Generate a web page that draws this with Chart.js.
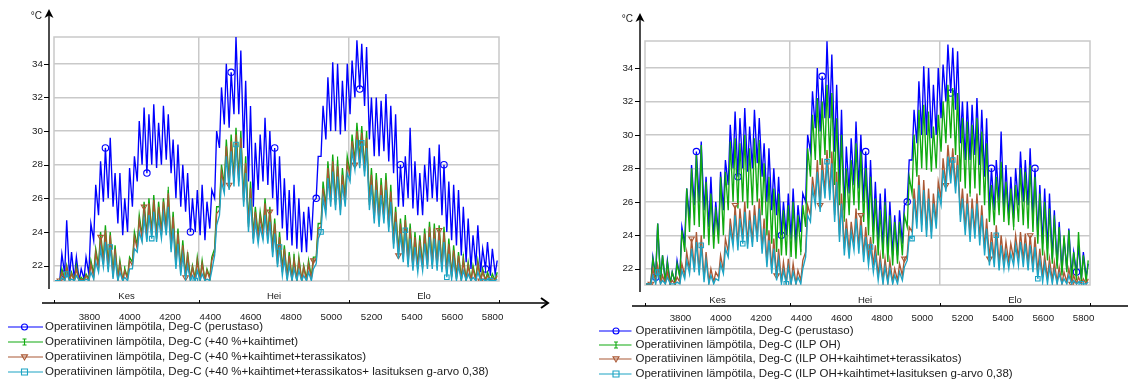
<!DOCTYPE html>
<html><head><meta charset="utf-8">
<script src="https://cdn.jsdelivr.net/npm/chart.js@4.4.1/dist/chart.umd.min.js"></script>
<style>
html,body{margin:0;padding:0;background:#fff;width:1128px;height:383px;overflow:hidden}
#cl{position:absolute;left:0;top:0}
#cr{position:absolute;left:564px;top:0}
</style></head><body>
<canvas id="cl" width="564" height="383"></canvas>
<canvas id="cr" width="564" height="383"></canvas>
<script>
// ---- data (hour of year; one max and one min per day) ----
const FIRST_HOUR = 3624;
const monthBounds = [3624, 4344, 5088, 5832];
const monthCenters = [3984, 4716, 5460];
const monthNames = ['Kes', 'Hei', 'Elo'];
const xTickValues = [3800, 4000, 4200, 4400, 4600, 4800, 5000, 5200, 5400, 5600, 5800];
const yTickValues = [22, 24, 26, 28, 30, 32, 34];

// perustaso (same in both charts)
const baseMax = [
21.1,22.7,24.7,22.8,22.5,21.8,22.5,24.5,26.8,28.2,
29.0,29.6,27.5,27.5,26.0,27.8,28.5,30.6,31.4,31.0,
31.6,30.5,31.5,31.0,29.5,29.2,28.0,27.5,26.0,26.5,
26.8,25.8,26.5,30.0,32.6,34.0,33.5,35.6,34.8,33.0,
31.5,29.3,29.8,30.8,30.0,29.0,28.5,27.2,26.5,26.8,
26.0,25.2,25.5,25.8,28.5,31.5,33.2,34.1,34.0,33.0,
34.0,34.2,35.4,35.2,35.0,32.0,32.0,31.8,32.2,31.5,
31.0,28.0,28.5,30.2,28.2,27.5,28.0,29.0,28.5,29.2,
28.0,27.0,26.8,26.5,25.5,24.8,23.8,24.4,23.0,23.4,
23.0,22.3];
const baseMin = [
21.1,21.1,21.5,21.3,21.2,21.1,21.2,21.5,23.5,25.0,
25.8,26.0,25.5,24.5,23.8,24.0,25.5,27.0,28.0,27.5,
28.0,27.8,28.0,28.3,27.5,26.0,25.5,25.2,24.0,24.0,
23.8,23.5,24.2,26.0,29.0,30.4,30.2,31.0,31.0,29.0,
27.0,25.5,26.5,27.0,26.8,26.0,25.0,24.2,23.5,23.2,
23.0,22.8,22.8,23.5,26.0,28.5,29.5,30.0,30.0,29.8,
30.0,31.0,32.0,32.5,31.5,29.5,28.5,28.5,28.8,28.2,
27.5,25.5,25.5,26.0,25.4,25.0,25.0,25.8,26.0,25.8,
25.0,24.0,23.5,23.2,22.6,22.2,21.8,22.0,21.6,21.8,
21.4,21.5];

// left chart: +40 %+kaihtimet
const leftGreenMax = [
21.1,21.8,22.0,21.6,22.0,21.3,21.5,22.3,23.0,24.0,
24.4,24.0,23.2,22.3,21.8,22.5,24.0,25.0,25.8,26.0,
26.2,25.8,26.0,26.5,25.2,24.2,23.5,22.8,22.0,22.5,
22.3,21.8,22.5,25.5,28.0,29.5,29.8,30.2,30.0,28.5,
27.0,25.5,25.2,26.0,25.5,24.8,24.0,23.2,22.8,22.5,
22.5,22.0,22.3,22.5,24.5,27.0,28.2,28.6,28.3,27.8,
28.5,29.8,30.5,30.3,30.0,27.8,27.5,27.2,27.5,26.8,
25.5,24.8,25.0,24.5,24.0,23.8,24.2,24.6,24.5,24.4,
24.3,23.6,23.2,22.8,22.5,22.2,22.0,22.3,21.8,21.6,
21.5,21.6];
const leftGreenMin = [
21.1,21.1,21.2,21.1,21.1,21.1,21.1,21.2,21.5,22.0,
22.3,22.0,21.5,21.2,21.1,21.3,22.2,23.2,23.8,23.8,
24.0,23.8,24.0,24.2,23.2,22.2,21.8,21.4,21.2,21.2,
21.2,21.1,21.3,23.0,25.5,26.8,27.0,27.2,27.2,26.0,
24.5,23.8,23.8,24.0,23.8,23.0,22.3,21.8,21.3,21.2,
21.1,21.1,21.2,21.3,22.5,24.5,25.5,26.0,25.8,25.5,
26.0,27.5,28.2,28.3,27.8,25.8,25.0,24.8,25.0,24.5,
23.5,22.8,22.6,22.3,22.0,21.9,22.0,22.2,22.1,22.0,
21.9,21.6,21.4,21.3,21.2,21.1,21.1,21.2,21.1,21.1,
21.1,21.1];
// left chart: +40 %+kaihtimet+terassikatos
const leftBrownMax = [
21.1,21.6,21.9,21.5,21.8,21.2,21.4,22.1,22.8,23.7,
24.1,23.8,23.0,22.1,21.7,22.3,23.7,24.7,25.5,25.7,
25.9,25.5,25.8,26.3,24.9,23.9,23.2,22.6,21.9,22.3,
22.1,21.7,22.3,25.1,27.6,29.1,29.4,29.8,29.6,28.1,
26.6,25.2,24.9,25.7,25.2,24.5,23.7,23.0,22.6,22.3,
22.3,21.9,22.1,22.3,24.2,26.6,27.8,28.2,27.9,27.4,
28.1,29.4,30.0,29.9,29.6,27.4,27.1,26.8,27.1,26.4,
25.2,24.5,24.7,24.2,23.7,23.5,23.9,24.3,24.2,24.1,
24.0,23.3,22.9,22.6,22.3,22.0,21.8,22.1,21.6,21.4,
21.3,21.4];
const leftBrownMin = [
21.1,21.1,21.1,21.1,21.1,21.1,21.1,21.1,21.3,21.8,
22.1,21.8,21.3,21.1,21.1,21.2,22.0,23.0,23.6,23.6,
23.8,23.6,23.8,24.0,23.0,22.0,21.6,21.3,21.1,21.1,
21.1,21.1,21.2,22.8,25.3,26.6,26.8,27.0,27.0,25.8,
24.3,23.6,23.6,23.8,23.6,22.8,22.1,21.6,21.2,21.1,
21.1,21.1,21.1,21.2,22.3,24.3,25.3,25.8,25.6,25.3,
25.8,27.3,28.0,28.1,27.6,25.6,24.8,24.6,24.8,24.3,
23.3,22.6,22.4,22.1,21.9,21.8,21.9,22.0,22.0,21.9,
21.8,21.5,21.3,21.2,21.1,21.1,21.1,21.1,21.1,21.1,
21.1,21.1];
// left chart: +40 %+kaihtimet+terassikatos+ lasituksen g-arvo 0,38
const leftCyanMax = [
21.1,21.3,21.5,21.2,21.4,21.1,21.2,21.6,22.2,23.0,
23.4,23.1,22.4,21.6,21.3,21.8,23.0,24.0,24.8,25.0,
25.2,24.8,25.1,25.5,24.2,23.3,22.6,22.0,21.4,21.7,
21.5,21.2,21.7,24.4,27.0,28.5,28.8,29.2,29.0,27.5,
26.0,24.6,24.3,25.0,24.6,23.9,23.1,22.4,22.0,21.8,
21.7,21.4,21.6,21.8,23.6,26.0,27.2,27.6,27.3,26.8,
27.5,28.8,29.5,29.3,29.0,26.8,26.5,26.2,26.5,25.8,
24.6,23.9,24.1,23.6,23.1,22.9,23.3,23.7,23.6,23.5,
23.4,22.7,22.3,22.0,21.7,21.5,21.3,21.6,21.2,21.2,
21.1,21.2];
const leftCyanMin = [
21.1,21.1,21.1,21.1,21.1,21.1,21.1,21.1,21.2,21.6,
21.9,21.6,21.2,21.1,21.1,21.1,21.8,22.8,23.4,23.4,
23.6,23.4,23.6,23.8,22.8,21.8,21.4,21.2,21.1,21.1,
21.1,21.1,21.1,22.6,25.0,26.3,26.5,26.7,26.7,25.5,
24.0,23.3,23.3,23.5,23.3,22.5,21.9,21.4,21.1,21.1,
21.1,21.1,21.1,21.1,22.1,24.0,25.0,25.5,25.3,25.0,
25.5,27.0,27.7,27.8,27.3,25.3,24.5,24.3,24.5,24.0,
23.0,22.4,22.2,21.9,21.7,21.6,21.7,21.8,21.8,21.7,
21.6,21.3,21.2,21.1,21.1,21.1,21.1,21.1,21.1,21.1,
21.1,21.1];

// right chart: ILP OH
const rightGreenMax = [
21.1,22.6,24.7,22.8,22.4,21.8,22.3,24.3,26.8,28.0,
28.8,29.4,27.2,26.5,25.5,27.5,27.8,29.6,29.8,29.5,
30.0,29.2,29.8,29.5,28.3,27.5,26.8,26.5,25.5,25.8,
26.0,25.2,25.8,29.2,31.2,32.2,32.0,33.0,32.5,31.0,
30.0,28.0,28.5,29.5,29.0,28.0,27.5,26.2,25.5,25.8,
25.2,24.8,24.8,25.2,27.5,30.0,31.5,31.8,31.2,30.5,
31.2,32.0,33.0,32.8,32.5,31.0,30.8,30.6,31.0,30.2,
29.5,27.0,27.5,28.4,27.2,26.8,27.0,28.0,27.8,28.2,
27.5,26.5,26.0,25.6,25.0,24.5,24.0,24.3,23.0,24.2,
22.8,22.5];
const rightGreenMin = [
21.1,21.1,21.5,21.3,21.2,21.1,21.2,21.5,23.0,24.2,
24.6,24.5,23.8,23.4,23.2,23.5,24.0,25.5,26.0,25.6,
26.0,25.6,25.8,26.0,25.2,24.0,23.5,23.0,22.8,22.8,
22.7,22.6,23.0,24.5,27.5,28.5,28.2,28.8,28.6,27.0,
25.8,25.0,25.2,25.8,25.5,24.8,24.0,23.5,22.8,22.6,
22.4,22.2,22.3,22.8,24.5,26.5,27.5,28.0,27.9,27.8,
28.0,29.0,29.5,29.8,28.8,27.2,26.8,26.5,26.8,26.4,
25.8,24.8,24.6,25.2,24.8,24.6,24.5,24.8,24.6,24.4,
24.2,23.5,22.8,22.5,22.3,22.0,21.6,21.8,21.3,21.3,
21.2,21.2];
// right chart: ILP OH+kaihtimet+terassikatos
const rightBrownMax = [
21.1,22.0,22.2,21.6,21.8,21.3,21.5,22.3,23.0,23.8,
24.2,24.0,23.0,22.0,21.8,22.8,23.8,25.0,25.8,25.6,
26.0,25.5,25.8,26.2,25.0,24.3,23.8,23.2,22.4,22.6,
22.3,21.9,22.5,25.8,27.5,28.5,28.6,29.1,29.0,27.8,
26.5,25.0,24.8,25.6,25.2,24.5,23.9,23.4,22.8,22.6,
22.5,22.0,22.3,22.6,24.5,26.8,27.6,27.3,26.8,26.5,
27.2,28.6,29.4,29.2,28.8,26.8,26.5,26.2,26.5,25.8,
25.0,24.2,24.6,24.0,23.6,23.5,24.0,24.2,24.1,24.0,
23.9,23.2,22.8,22.6,22.4,22.1,21.8,22.0,21.6,21.5,
21.4,21.4];
const rightBrownMin = [
21.1,21.1,21.2,21.1,21.1,21.1,21.1,21.2,21.6,21.9,
22.0,21.8,21.4,21.2,21.2,21.5,21.9,23.0,23.6,23.4,
23.8,23.5,23.6,23.9,23.2,22.4,22.0,21.6,21.2,21.1,
21.1,21.1,21.3,23.0,25.2,26.2,25.8,26.6,26.5,25.2,
24.0,23.2,23.0,23.5,23.3,22.8,22.6,22.2,21.6,21.3,
21.2,21.2,21.3,21.6,22.8,24.2,24.8,24.6,24.3,24.2,
24.8,26.2,27.0,27.5,26.9,25.2,24.4,24.0,24.2,23.8,
23.2,22.6,22.5,22.3,22.4,22.4,22.6,22.6,22.5,22.3,
22.2,21.8,21.5,21.4,21.3,21.2,21.1,21.2,21.1,21.1,
21.1,21.1];
// right chart: ILP OH+kaihtimet+lasituksen g-arvo 0,38
const rightCyanMax = [
21.1,21.6,21.8,21.3,21.5,21.1,21.2,21.9,22.5,23.2,
23.6,23.4,22.5,21.6,21.4,22.3,23.2,24.4,25.2,25.0,
25.4,24.9,25.2,25.6,24.4,23.7,23.2,22.6,21.9,22.1,
21.8,21.5,22.0,25.2,26.8,27.8,27.9,28.4,28.3,27.2,
25.9,24.4,24.2,25.0,24.6,23.9,23.3,22.8,22.3,22.1,
22.0,21.6,21.8,22.1,23.9,26.2,27.0,26.7,26.2,25.9,
26.6,27.9,28.7,28.5,28.2,26.2,25.9,25.6,25.9,25.2,
24.4,23.6,24.0,23.4,23.0,22.9,23.4,23.6,23.5,23.4,
23.3,22.6,22.3,22.1,21.9,21.7,21.4,21.6,21.3,21.2,
21.1,21.2];
const rightCyanMin = [
21.1,21.1,21.1,21.1,21.1,21.1,21.1,21.1,21.4,21.7,
21.8,21.6,21.2,21.1,21.1,21.3,21.7,22.7,23.3,23.1,
23.5,23.2,23.3,23.6,22.9,22.1,21.7,21.3,21.1,21.1,
21.1,21.1,21.1,22.7,24.8,25.8,25.4,26.2,26.1,24.8,
23.6,22.8,22.6,23.1,22.9,22.4,22.2,21.8,21.3,21.1,
21.1,21.1,21.1,21.3,22.5,23.8,24.4,24.2,23.9,23.8,
24.4,25.8,26.6,27.1,26.5,24.8,24.0,23.6,23.8,23.4,
22.8,22.2,22.1,21.9,22.0,22.0,22.2,22.2,22.1,21.9,
21.8,21.4,21.2,21.1,21.1,21.1,21.1,21.1,21.1,21.1,
21.1,21.1];

const leftLabels = [
  'Operatiivinen lämpötila, Deg-C (perustaso)',
  'Operatiivinen lämpötila, Deg-C (+40 %+kaihtimet)',
  'Operatiivinen lämpötila, Deg-C (+40 %+kaihtimet+terassikatos)',
  'Operatiivinen lämpötila, Deg-C (+40 %+kaihtimet+terassikatos+ lasituksen g-arvo 0,38)'];
const rightLabels = [
  'Operatiivinen lämpötila, Deg-C (perustaso)',
  'Operatiivinen lämpötila, Deg-C (ILP OH)',
  'Operatiivinen lämpötila, Deg-C (ILP OH+kaihtimet+terassikatos)',
  'Operatiivinen lämpötila, Deg-C (ILP OH+kaihtimet+lasituksen g-arvo 0,38)'];

// ---- styling ----
const FONT = '"Liberation Sans", Arial, sans-serif';
Chart.defaults.font.family = FONT;
Chart.defaults.color = '#222';
const GRID = '#c9c9c9';
const STYLES = [
  {color: '#0000ff', pointStyle: 'circle',   rot: 0,   markDay: 1.8, mark: 'circle'},
  {color: '#10aa10', pointStyle: 'line',     rot: 90,  markDay: 6.0, mark: 'bar'},
  {color: '#aa5834', pointStyle: 'triangle', rot: 180, markDay: 1.0, mark: 'tri'},
  {color: '#1ca4c4', pointStyle: 'rect',     rot: 0,   markDay: 2.7, mark: 'rect'}
];

function toPoints(mins, maxs) {
  const pts = [];
  const n = Math.min(mins.length, maxs.length);
  for (let d = 0; d < n; d++) {
    pts.push({x: FIRST_HOUR + 24 * d + 5, y: mins[d]});
    pts.push({x: FIRST_HOUR + 24 * d + 15, y: maxs[d]});
  }
  return pts;
}
function markerSet(day) {
  const s = new Set();
  for (let k = 0; k < 12; k++) s.add(Math.round(2 * (day + 8.72 * k)));
  return s;
}
function makeDataset(i, mins, maxs, label) {
  const st = STYLES[i];
  const marks = markerSet(st.markDay);
  return {
    label, data: toPoints(mins, maxs),
    borderColor: st.color, borderWidth: 1.35, tension: 0, fill: false,
    pointStyle: st.pointStyle, pointRotation: st.rot,
    pointRadius: c => marks.has(c.dataIndex) ? 3.2 : 0,
    pointBorderColor: st.color, pointBackgroundColor: 'rgba(255,255,255,0)',
    pointBorderWidth: 1.1, order: 4 - i
  };
}

function drawMark(ctx, kind, x, y, color, r) {
  ctx.save();
  ctx.strokeStyle = color; ctx.lineWidth = 1.1;
  ctx.beginPath();
  if (kind === 'circle') { ctx.arc(x, y, r, 0, Math.PI * 2); }
  else if (kind === 'rect') { ctx.rect(x - r, y - r, 2 * r, 2 * r); }
  else if (kind === 'tri') { ctx.moveTo(x - r, y - r * 0.7); ctx.lineTo(x + r, y - r * 0.7); ctx.lineTo(x, y + r); ctx.closePath(); }
  else if (kind === 'bar') { ctx.moveTo(x, y - r); ctx.lineTo(x, y + r); ctx.moveTo(x - 2, y - r); ctx.lineTo(x + 2, y - r); ctx.moveTo(x - 2, y + r); ctx.lineTo(x + 2, y + r); }
  ctx.stroke();
  ctx.restore();
}

const deco = {
  id: 'deco',
  beforeDatasetsDraw(chart, args, o) {
    const {ctx, chartArea: a} = chart;
    ctx.save();
    ctx.strokeStyle = GRID; ctx.lineWidth = 1.5;
    ctx.strokeRect(a.left, a.top, a.right - a.left, a.bottom - a.top);
    ctx.restore();
  },
  afterDraw(chart, args, o) {
    const {ctx} = chart;
    const ys = chart.scales.y, xs = chart.scales.xb;
    ctx.save();
    // vertical axis with arrow
    const ax = o.axisX;
    ctx.strokeStyle = '#000'; ctx.fillStyle = '#000'; ctx.lineWidth = 1.4;
    ctx.beginPath(); ctx.moveTo(ax, o.arrowTop + 5); ctx.lineTo(ax, o.axisBottom); ctx.stroke();
    ctx.beginPath();
    ctx.moveTo(ax, o.arrowTop); ctx.lineTo(ax - 4.5, o.arrowTop + 9); ctx.lineTo(ax, o.arrowTop + 6.5); ctx.lineTo(ax + 4.5, o.arrowTop + 9);
    ctx.closePath(); ctx.fill();
    ctx.lineWidth = 1;
    yTickValues.forEach(v => {
      const py = Math.round(ys.getPixelForValue(v)) + 0.5;
      ctx.beginPath(); ctx.moveTo(ax - 5, py); ctx.lineTo(ax, py); ctx.stroke();
    });
    ctx.fillStyle = '#222';
    ctx.font = '10px ' + FONT; ctx.textAlign = 'right'; ctx.textBaseline = 'middle';
    ctx.fillText('°C', o.degX, o.degY);
    // horizontal axis with arrow
    ctx.strokeStyle = '#000'; ctx.lineWidth = 1.4;
    const yl = o.xLineY;
    ctx.beginPath(); ctx.moveTo(o.xLineLeft, yl); ctx.lineTo(o.xLineRight, yl); ctx.stroke();
    if (o.arrow) {
      ctx.lineWidth = 2;
      ctx.beginPath(); ctx.moveTo(o.xLineRight - 7, yl - 5); ctx.lineTo(o.xLineRight, yl); ctx.lineTo(o.xLineRight - 7, yl + 5); ctx.stroke();
    }
    ctx.lineWidth = 1;
    monthBounds.forEach(v => {
      const px = Math.round(xs.getPixelForValue(v)) + 0.5;
      ctx.beginPath(); ctx.moveTo(px, yl - 3); ctx.lineTo(px, yl); ctx.stroke();
    });
    // legend
    const L = o.legend;
    ctx.font = L.size + 'px ' + FONT; ctx.textAlign = 'left'; ctx.textBaseline = 'middle';
    chart.data.datasets.forEach((ds, i) => {
      const st = STYLES[i], y = L.rows[i];
      ctx.strokeStyle = st.color; ctx.lineWidth = 1.2;
      ctx.beginPath(); ctx.moveTo(L.x0, y); ctx.lineTo(L.x1, y); ctx.stroke();
      drawMark(ctx, st.mark, L.xm, y, st.color, 3);
      ctx.fillStyle = '#1a1a1a';
      ctx.fillText(ds.label, L.xt, y);
    });
    ctx.restore();
  }
};

function makeChart(id, datasets, P) {
  return new Chart(document.getElementById(id), {
    type: 'line',
    data: {datasets},
    plugins: [deco],
    options: {
      responsive: false, animation: false, devicePixelRatio: 1, events: [],
      parsing: false,
      layout: {padding: {left: 0, right: P.padRight, top: P.padTop, bottom: P.padBottom}},
      plugins: {legend: {display: false}, tooltip: {enabled: false}, deco: P.deco},
      scales: {
        x: {type: 'linear', position: 'bottom', weight: 0, min: monthBounds[0], max: monthBounds[3],
            afterBuildTicks: s => { s.ticks = monthBounds.slice(1, 3).map(v => ({value: v})); },
            ticks: {display: false}, grid: {color: GRID, lineWidth: 1.5, drawTicks: false},
            border: {display: false}, afterFit: s => { s.height = 0; }},
        xm: {type: 'linear', position: 'bottom', weight: 1, min: monthBounds[0], max: monthBounds[3],
            afterBuildTicks: s => { s.ticks = monthCenters.map(v => ({value: v})); },
            ticks: {autoSkip: false, maxRotation: 0, padding: P.xmPad, font: {size: 9.5}, color: '#222',
                    callback: (v, i) => monthNames[i]},
            grid: {display: false, drawTicks: false}, border: {display: false},
            afterFit: s => { s.height = P.xmH; }},
        xb: {type: 'linear', position: 'bottom', weight: 2, min: monthBounds[0], max: monthBounds[3],
            afterBuildTicks: s => { s.ticks = xTickValues.map(v => ({value: v})); },
            ticks: {autoSkip: false, maxRotation: 0, padding: P.xbPad, font: {size: 9.7}, color: '#222',
                    callback: v => String(v)},
            grid: {display: false, drawTicks: false}, border: {display: false},
            afterFit: s => { s.height = P.xbH; }},
        y: {type: 'linear', position: 'left', min: P.yMin, max: P.yMax,
            afterBuildTicks: s => { s.ticks = yTickValues.map(v => ({value: v})); },
            ticks: {padding: P.yPad, font: {size: 9.8}, color: '#222', callback: v => String(v)},
            grid: {color: GRID, lineWidth: 1.5, drawTicks: false}, border: {display: false},
            afterFit: s => { s.width = P.yW; }}
      }
    }
  });
}

makeChart('cl', [
  makeDataset(0, baseMin, baseMax, leftLabels[0]),
  makeDataset(1, leftGreenMin, leftGreenMax, leftLabels[1]),
  makeDataset(2, leftBrownMin, leftBrownMax, leftLabels[2]),
  makeDataset(3, leftCyanMin, leftCyanMax, leftLabels[3])
], {
  padRight: 65, padTop: 37, padBottom: 58, yW: 54, yPad: 11, yMin: 21.08, yMax: 35.6,
  xmH: 22, xmPad: 9.5, xbH: 22, xbPad: 8.5,
  deco: {axisX: 49, arrowTop: 9, axisBottom: 289, degX: 42, degY: 16,
         xLineY: 303, xLineLeft: 42, xLineRight: 548, arrow: true,
         legend: {size: 11.5, x0: 8, x1: 43, xm: 24.5, xt: 45, rows: [327, 342, 357, 372]}}
});

makeChart('cr', [
  makeDataset(0, baseMin, baseMax, rightLabels[0]),
  makeDataset(1, rightGreenMin, rightGreenMax, rightLabels[1]),
  makeDataset(2, rightBrownMin, rightBrownMax, rightLabels[2]),
  makeDataset(3, rightCyanMin, rightCyanMax, rightLabels[3])
], {
  padRight: 38, padTop: 41, padBottom: 56, yW: 81, yPad: 11.7, yMin: 21.03, yMax: 35.61,
  xmH: 21, xmPad: 9.5, xbH: 21, xbPad: 6.5,
  deco: {axisX: 76, arrowTop: 13, axisBottom: 292, degX: 69, degY: 19.5,
         xLineY: 306, xLineLeft: 68, xLineRight: 564, arrow: false,
         legend: {size: 11.5, x0: 35, x1: 67.5, xm: 52, xt: 71.5, rows: [331, 345, 359, 374]}}
});
</script>
</body></html>
